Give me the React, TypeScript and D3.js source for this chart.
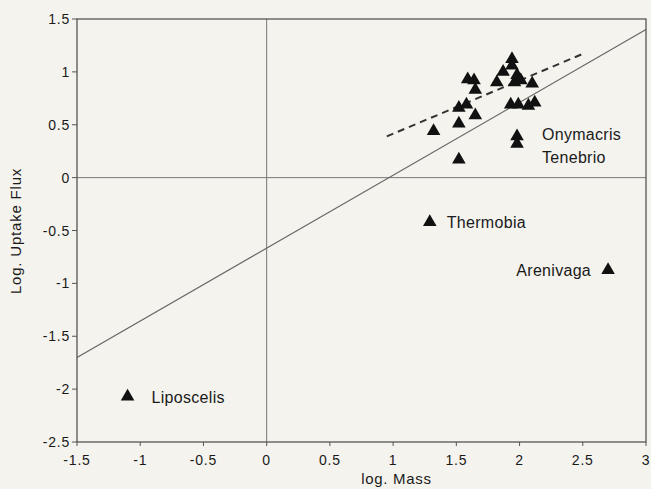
import React from "react";
import * as d3 from "d3";

const xTicks = [-1.5, -1, -0.5, 0, 0.5, 1, 1.5, 2, 2.5, 3];
const yTicks = [1.5, 1, 0.5, 0, -0.5, -1, -1.5, -2, -2.5];
const xTickLabels = ["-1.5", "-1", "-0.5", "0", "0.5", "1", "1.5", "2", "2.5", "3"];
const yTickLabels = ["1.5", "1", "0.5", "0", "-0.5", "-1", "-1.5", "-2", "-2.5"];

const clusterX = [1.32, 1.52, 1.52, 1.58, 1.65, 1.52, 1.59, 1.64, 1.65, 1.82, 1.87, 1.94, 1.94, 1.96, 1.98, 2.01, 2.10, 1.93, 1.99, 2.07, 2.12, 1.98, 1.98];
const clusterY = [0.44, 0.51, 0.66, 0.69, 0.59, 0.17, 0.93, 0.92, 0.83, 0.90, 1.00, 1.12, 1.06, 0.90, 0.97, 0.92, 0.89, 0.69, 0.69, 0.68, 0.71, 0.39, 0.32];

const namedSpecies = ["Thermobia", "Arenivaga", "Liposcelis"];
const namedX = [1.29, 2.70, -1.10];
const namedY = [-0.42, -0.875, -2.07];

const solidLineX = [-1.5, 3];
const solidLineY = [-1.7, 1.4];
const dashedLineX = [0.95, 2.5];
const dashedLineY = [0.39, 1.17];

export default function App() {
  const W = 651, H = 489;
  const left = 77, right = 646, top = 19, bottom = 442;
  const x = d3.scaleLinear().domain([-1.5, 3]).range([left, right]);
  const y = d3.scaleLinear().domain([-2.5, 1.5]).range([bottom, top]);
  const tri = d3.symbol().type(d3.symbolTriangle).size(80)();
  const line = d3.line<[number, number]>().x(d => x(d[0])).y(d => y(d[1]));
  const font = "'Liberation Sans', Arial, sans-serif";
  const ink = "#1a1a1a";
  return (
    <svg width={W} height={H} style={{ position: "absolute", left: 0, top: 0, background: "#f4f3ee" }} fontFamily={font}>
      <rect x={0} y={0} width={W} height={H} fill="#f4f3ee" />
      {/* reference lines */}
      <line x1={x(0)} x2={x(0)} y1={top} y2={bottom} stroke="#777" strokeWidth={1} />
      <line x1={left} x2={right} y1={y(0)} y2={y(0)} stroke="#777" strokeWidth={1} />
      {/* regression lines */}
      <path d={line(solidLineX.map((v, i) => [v, solidLineY[i]]) as any) || ""} stroke="#666" strokeWidth={1.2} fill="none" />
      <path d={line(dashedLineX.map((v, i) => [v, dashedLineY[i]]) as any) || ""} stroke="#333" strokeWidth={2} strokeDasharray="7,5" fill="none" />
      {/* frame */}
      <rect x={left} y={top} width={right - left} height={bottom - top} fill="none" stroke="#555" strokeWidth={1.3} />
      {/* ticks */}
      {xTicks.map((t, i) => (
        <g key={"x" + i}>
          <line x1={x(t)} x2={x(t)} y1={bottom} y2={bottom + 4} stroke="#555" />
          <text x={x(t)} y={bottom + 23} textAnchor="middle" fontSize={14} letterSpacing={0.8} fill={ink}>{xTickLabels[i]}</text>
        </g>
      ))}
      {yTicks.map((t, i) => (
        <g key={"y" + i}>
          <line x1={left - 5} x2={left} y1={y(t)} y2={y(t)} stroke="#555" />
          <text x={left - 7} y={y(t) + 5} textAnchor="end" fontSize={14} letterSpacing={0.8} fill={ink}>{yTickLabels[i]}</text>
        </g>
      ))}
      <text x={(left + right) / 2 + 35} y={484} textAnchor="middle" fontSize={15} letterSpacing={0.7} fill={ink}>log. Mass</text>
      <text transform={`translate(21, ${231}) rotate(-90)`} textAnchor="middle" fontSize={15} letterSpacing={0.8} fill={ink}>Log. Uptake Flux</text>
      {/* points */}
      {clusterX.map((v, i) => (
        <path key={"c" + i} d={tri || ""} transform={`translate(${x(v)},${y(clusterY[i])})`} fill="#111" />
      ))}
      {namedX.map((v, i) => (
        <path key={"n" + i} d={tri || ""} transform={`translate(${x(v)},${y(namedY[i])})`} fill="#111" />
      ))}
      {/* labels */}
      <text x={542} y={140} fontSize={16} letterSpacing={0.3} fill={ink}>Onymacris</text>
      <text x={542} y={163} fontSize={16} letterSpacing={0.3} fill={ink}>Tenebrio</text>
      <text x={x(namedX[0]) + 17} y={y(namedY[0]) + 6} fontSize={16} letterSpacing={0.3} fill={ink}>{namedSpecies[0]}</text>
      <text x={x(namedX[1]) - 17} y={y(namedY[1]) + 6} textAnchor="end" fontSize={16} letterSpacing={0.3} fill={ink}>{namedSpecies[1]}</text>
      <text x={x(namedX[2]) + 24} y={y(namedY[2]) + 6} fontSize={16} letterSpacing={0.3} fill={ink}>{namedSpecies[2]}</text>
    </svg>
  );
}
